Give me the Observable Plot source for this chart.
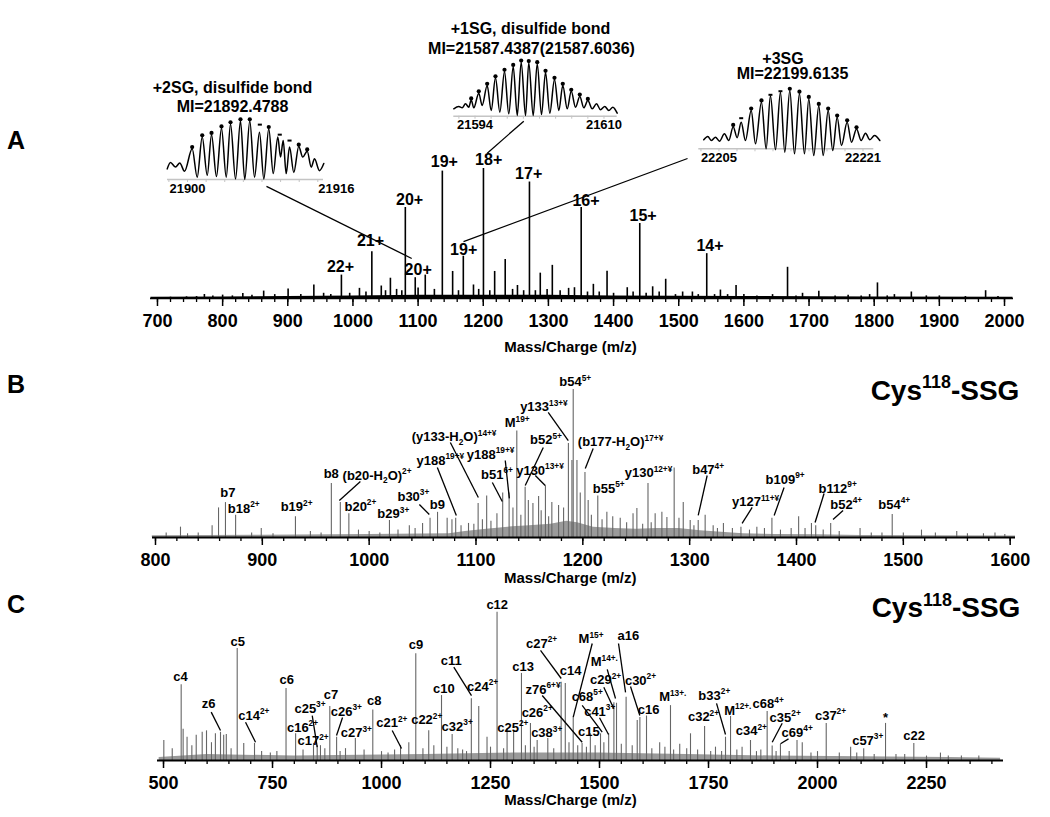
<!DOCTYPE html>
<html><head><meta charset="utf-8">
<script src="https://cdn.jsdelivr.net/npm/d3@7"></script>
<script src="https://cdn.jsdelivr.net/npm/@observablehq/plot@0.6"></script>
<style>
body{margin:0;background:#fff;font-family:"Liberation Sans",Arial,sans-serif}
#root{position:relative;width:1050px;height:817px;overflow:hidden;background:#fff}
.box{position:absolute}
.letter{position:absolute;left:7px;font-weight:bold;font-size:25px;line-height:28px;color:#000}
</style></head>
<body><div id="root"></div>
<script>
// ---------------- DATA ----------------
const xTitle = "Mass/Charge (m/z)";
const cysTitle = "Cys^{118}-SSG";

// Panel A: intact protein charge-state envelope [m/z, relative intensity]
const specA = [[720,1],[744.6,1.3],[760,1.5],[772,3.1],[785,2],[800,2.6],[815,2],[831,3.9],[845,2.5],[863,5.7],[880,3],[900.5,7.3],[920,3],[940,10.4],[955,4],[966,3.1],[982.3,18],[995,4],[1010,7.8],[1020,5],[1029,36],[1043.5,9.6],[1050,6],[1057.5,15.6],[1067,7],[1075,6],[1080.4,70],[1095.6,16],[1100,8],[1111,18],[1125,7],[1137.2,98],[1153,20.8],[1162,6],[1169.4,32.5],[1185,10.4],[1193,7],[1200.3,100],[1210,6],[1217.5,20.8],[1233.7,30],[1245,7],[1252.5,10],[1262,6],[1270.9,89.6],[1280,6],[1287.5,19.5],[1298,7],[1306,25.5],[1318,6],[1331,7.8],[1340,8.3],[1350.3,70],[1360,5],[1369,10.9],[1378,5],[1390,21],[1400,4],[1421,8.3],[1430,5],[1440.2,57.7],[1450,4],[1460,9],[1470,5],[1480,14.8],[1495,3],[1506,5],[1521,5],[1530,3],[1543,34.5],[1555,3],[1564,6.5],[1575,3],[1588,10],[1600,3],[1620,2],[1644,3],[1667,24],[1680,2],[1690,4],[1715,5.5],[1740,2],[1760,2.5],[1780,2],[1793,3],[1805,12],[1820,2],[1831,3],[1857,5],[1880,2],[1900,2],[1940,1.5],[1971,6],[1990,1.5]];
const floorA = [[690,1],[800,1.2],[900,1.5],[1000,2],[1100,2.5],[1200,2.5],[1300,2.5],[1400,2],[1500,1.8],[1600,1.5],[1800,1.2],[2013,1]];
const labelsA = [["22+",980.9,24.6],["21+",1026.9,44.2],["20+",1086.9,75.8],["19+",1140.2,105.4],["18+",1208.3,106.5],["17+",1269.7,96.2],["16+",1357.7,75.4],["15+",1445.3,63.7],["14+",1548,40.3],["19+",1169.9,37.7],["20+",1100.1,22.1]];
const connectorsA = [[867.3,86.2,1090.2,30.8],[1262.2,136.4,1206.1,111.8],[1513.5,107.7,1169.7,43.7]];
const ticksA = [700,800,900,1000,1100,1200,1300,1400,1500,1600,1700,1800,1900,2000];

// Insets (isotope clusters): profile [mass, rel. intensity], theoretical markers
const insetTitles2SG = ["+2SG, disulfide bond","MI=21892.4788"];
const insetTitles1SG = ["+1SG, disulfide bond","MI=21587.4387(21587.6036)"];
const insetTitles3SG = ["+3SG","MI=22199.6135"];
const profile2SG = [[21897.82,18],[21898.17,29],[21898.71,21],[21899.17,28],[21899.68,14],[21900.50,52],[21901.04,4],[21901.58,72],[21902.12,7],[21902.58,76],[21903.11,5],[21903.65,87],[21904.16,4],[21904.62,94],[21905.16,1],[21905.69,99],[21906.15,0],[21906.69,99],[21907.20,4],[21907.73,80],[21908.20,1],[21908.73,86],[21909.21,10],[21909.70,72],[21909.99,38],[21910.28,66],[21910.60,10],[21910.96,55],[21911.42,12],[21911.95,56],[21912.38,38],[21912.86,48],[21913.29,21],[21913.64,35],[21914.18,15],[21914.64,27]];
const dots2SG = [[21900.5,55],[21901.58,75],[21902.58,79],[21903.65,90],[21904.62,97],[21905.69,102],[21906.69,102],[21908.73,89],[21911.95,59],[21912.86,51]];
const dashes2SG = [[21907.77,93],[21909.91,76],[21910.96,66]];
const profile1SG = [[21591.37,13.7],[21591.99,18],[21592.41,15.5],[21592.82,23],[21593.23,16.7],[21593.53,30],[21593.85,15.5],[21594.47,42.6],[21594.89,20],[21595.51,57],[21596.01,10.5],[21596.54,71],[21597.08,7.4],[21597.66,83],[21598.19,4.4],[21598.74,92],[21599.24,1.3],[21599.73,100],[21600.27,1.3],[21600.67,99],[21601.22,1.3],[21601.72,97],[21602.25,3],[21602.75,81],[21603.28,5.6],[21603.86,68],[21604.40,10.5],[21604.89,57],[21605.44,13.7],[21605.94,46],[21606.47,16.7],[21607.00,36.5],[21607.50,15.5],[21608.00,29],[21608.54,13.7],[21609.07,23],[21609.57,12],[21610.10,18],[21610.60,10.5],[21611.10,16.7],[21611.64,5.6]];
const dots1SG = [[21593.53,33],[21594.47,46],[21595.51,60],[21596.54,74],[21597.66,86],[21598.74,95],[21599.73,103],[21600.67,102],[21601.72,100],[21602.75,84],[21603.86,71],[21604.89,60],[21605.94,49],[21607.00,40],[21608.00,32]];
const profile3SG = [[22203.31,15.4],[22203.76,21],[22204.17,14.2],[22204.61,20],[22205.06,13],[22205.61,25.7],[22206.09,14.2],[22206.58,38],[22207.02,19],[22207.47,45.6],[22207.94,14.2],[22208.58,65.7],[22209.06,8.6],[22209.72,80],[22210.24,0],[22210.72,91],[22211.28,-1.7],[22211.83,97],[22212.31,-5.8],[22212.87,100],[22213.39,-8.6],[22213.94,95],[22214.50,-8.6],[22214.98,86],[22215.53,-11.5],[22216.09,74],[22216.58,-11.5],[22217.13,65.7],[22217.64,-3],[22218.13,54],[22218.61,5.7],[22219.24,45.6],[22219.72,11.3],[22220.28,34],[22220.80,14.2],[22221.28,26.8],[22221.76,15.4],[22222.28,22.8],[22222.87,14.2]];
const dots3SG = [[22206.58,41],[22208.58,69],[22209.72,83],[22212.87,103],[22213.94,98],[22214.98,89],[22216.09,77],[22217.13,69],[22218.13,57],[22219.24,49],[22220.28,37]];
const dashes3SG = [[22207.47,52.5],[22210.72,92.6],[22211.83,98.8]];

// Panel B: fragment spectrum
const specB = [[810,3],[823.4,7],[830,2.5],[840,3],[853,8],[859,20],[865.5,23.6],[875,15],[890,3],[899,6],[910,2.5],[931,14],[945,4],[955,3],[964.6,36.5],[973,23.6],[981,16],[990,5],[1000,4],[1010,3],[1019,11.5],[1027,5],[1037.6,8],[1043,6],[1050,9.5],[1057,13],[1064,17],[1073,13],[1077.5,12],[1081,13],[1086,8],[1093,9.5],[1098,9],[1102,23],[1106,12],[1110,28],[1114,11],[1119.6,16],[1125,30],[1131,30],[1134.6,20],[1138.2,72],[1142,15],[1146,34],[1149,25],[1153.3,23],[1158.6,27.7],[1161,18],[1165,35],[1168,14],[1171,23.6],[1177.3,21.6],[1182,20],[1186.5,63.5],[1189.8,52],[1191,100],[1194.5,52],[1197.6,30],[1202,44],[1205,25],[1208,15],[1214,28],[1218,12],[1222.5,17],[1228,14],[1235,13],[1241,10],[1247,16],[1250.6,19.6],[1256,9],[1261,36.5],[1264,10],[1267.7,16],[1274,17],[1278.7,13.5],[1285.5,47],[1290,13],[1294,23.6],[1300.5,11.5],[1304,8],[1308,11.5],[1314.5,15],[1322,8],[1326,6],[1331.6,9.5],[1340,6],[1348,7],[1356,5],[1362.9,7],[1370,6],[1377,13],[1385,5],[1395,6],[1402,14],[1408,6],[1414,9.5],[1418,8],[1425,5],[1432,9.5],[1440,4],[1459.5,6],[1470,3],[1480,3],[1489.6,15.5],[1500,3],[1517,5],[1530,3],[1550,4],[1560,2.5],[1575,2.5],[1585.8,3],[1595,2]];
const floorB = [[797,1.2],[900,1.5],[1000,2],[1075,2.5],[1090,4],[1110,5.5],[1130,7],[1150,8],[1170,9],[1185,11],[1195,10],[1210,7],[1230,6],[1250,5.5],[1270,6],[1290,6],[1310,4.5],[1330,3.5],[1350,2.5],[1380,2],[1420,1.8],[1460,1.4],[1605,1]];
const labelsB = [["b7",867.8,29.9],["b18^{2+}",882.6,19.4],["b19^{2+}",932.1,20.5],["b8",964.5,43],["(b20-H_{2}O)^{2+}",1007.4,41.9],["b20^{2+}",991.8,20.9],["b29^{3+}",1022.6,16],["b30^{3+}",1041.4,27.7],["b9",1063.8,22.3],["y188^{19+¥}",1066.6,52],["(y133-H_{2}O)^{14+¥}",1079.5,67.8],["y188^{19+¥}",1113.7,56.1],["M^{19+}",1138.6,77.2],["b51^{6+}",1119.6,42.4],["b52^{5+}",1165.5,66],["y130^{13+¥}",1159.9,45.3],["y133^{13+¥}",1163.6,88],["b54^{5+}",1192.9,105],["(b177-H_{2}O)^{17+¥}",1235.3,64.4],["b55^{5+}",1224.2,33],["y130^{12+¥}",1261.5,43.5],["b47^{4+}",1317.3,45.7],["y127^{11+¥}",1361.7,23.9],["b109^{9+}",1389.3,39],["b112^{9+}",1438.5,33],["b52^{4+}",1446.6,22.1],["b54^{4+}",1491.5,22.1]];
const leadersB = [[991.8,37.8,972.1,25],[1047,22.3,1056.3,15.5],[1063.8,47.3,1081.6,14.9],[1076,64.2,1102.2,27],[1127.4,52,1131.2,26.4],[1115.3,37.2,1124.6,24.3],[1163,60.8,1146.1,35.1],[1155.5,41.9,1164.8,35.1],[1167.6,84.5,1186.4,65.5],[1209.7,60.1,1202.3,46.6],[1316.4,41.9,1308,14.9],[1358.5,20.3,1349.1,9.5],[1388.4,33.8,1379.1,14.9],[1425.8,29.7,1417.4,10.1],[1443.6,18.2,1434.2,12.2]];
const ticksB = [800,900,1000,1100,1200,1300,1400,1500,1600];
const cysB = [1539, 99.3];

// Panel C: fragment spectrum
const specC = [[500.7,13.5],[520,8],[540.5,51],[545,21],[554,15.7],[565,10],[575,17],[588.7,19],[598.6,20],[610,12],[619,18],[630.7,19],[638,17],[644,17.5],[655,8],[669,75.5],[684,11.5],[708.7,11.5],[725,6],[745,5],[760,6],[781,48.5],[803,18],[820,7],[844,11.5],[852.5,10],[860,10],[870,8],[881.4,36.4],[897,15.7],[905,6],[917.4,8],[940,14.8],[960,7],[980,34],[1000,6],[1015,5],[1030,7],[1043.6,10],[1062.6,12],[1078.6,72],[1095,8],[1108.3,20],[1120,10],[1137.6,43.8],[1150,9],[1162,17.5],[1175,8],[1186,7],[1195,6],[1206,41.6],[1223,36.4],[1242,15.7],[1250,9],[1265,100],[1280,8],[1288,21.5],[1303,20],[1321,58.7],[1330,10],[1341.6,25],[1350,9],[1357,13.5],[1381.4,14.8],[1395,8],[1412,52.8],[1421.5,52],[1430,12],[1439.7,29],[1450,10],[1460,11.5],[1470,9],[1479,18],[1490,10],[1502.3,18],[1510,12],[1521,18],[1533,39],[1539,38.6],[1550,11],[1561,42.7],[1575,10],[1586.5,27],[1592.6,29],[1607.8,30],[1620,8],[1638,12],[1650,9],[1662.8,37],[1670,7],[1684,11],[1700,8],[1708.7,18],[1725,7],[1741,23],[1755,6],[1766,9],[1780,6],[1789,15.7],[1800.5,29.7],[1815,7],[1827,9],[1846.3,13.5],[1860,6],[1870,7],[1884.5,33],[1896,9.7],[1905,6],[1915,10.8],[1935,6],[1953,13.5],[1965,12],[1985,5],[2000,6],[2020,25],[2050,5],[2076,9],[2090,5],[2106,8],[2130,4],[2156,25],[2180,4],[2200,4],[2220.9,11.5],[2250,3],[2282,5],[2300,3],[2330,3],[2370,3]];
const floorC = [[490,2],[600,4],[800,3],[1100,4],[1300,5],[1500,5],[1700,4],[1900,3],[2100,2.5],[2300,2],[2420,1.5]];
const labelsC = [["c4",539,56.2],["z6",603.2,38.2],["c5",670.2,80.2],["c14^{2+}",707.1,30.3],["c6",782.6,54.4],["c16^{2+}",818.8,22.3],["c17^{2+}",843,13.2],["c25^{3+}",836,35],["c7",884,44],["c26^{3+}",919.3,33],["c27^{3+}",942.2,18.4],["c8",983.3,40.5],["c21^{2+}",1023.6,25.2],["c9",1079.1,78.2],["c22^{2+}",1103.7,27.4],["c10",1142.9,48.3],["c32^{3+}",1173.5,22.9],["c11",1160.1,67],["c24^{2+}",1231.7,49.9],["c12",1265.4,105],["c25^{2+}",1301.2,22.3],["c13",1325,63.4],["z76^{6+¥}",1370.4,47.9],["c26^{2+}",1357.1,32.4],["c38^{3+}",1378.9,18.4],["c27^{2+}",1367,78.7],["c14",1433.5,60.2],["M^{15+}",1480.5,82],["c15",1475.5,19.1],["c68^{5+}",1471.8,43.2],["c41^{3+}",1500.5,33],["a16",1566,84.3],["M^{14+.}",1511,66.3],["c29^{2+}",1513.8,54.4],["c30^{2+}",1594,53.9],["c16",1612.5,34.5],["M^{13+.}",1668,42.8],["c32^{2+}",1738.5,29.2],["b33^{2+}",1763.3,43.8],["M^{12+.}",1817.2,33.7],["c68^{4+}",1886.9,38.2],["c34^{2+}",1848.2,19.8],["c35^{2+}",1925.9,29],["c69^{4+}",1953.4,18.9],["c37^{2+}",2029.8,30.3],["c57^{3+}",2115.2,13.5],["*",2156,28.8],["c22",2221.8,16.9]];
const leadersC = [[609.4,32.6,630.7,20.2],[688.1,25.8,711,12.3],[841.1,30.2,852.5,9],[910.6,29,896.8,16.9],[1024.5,20.2,1045.9,8.1],[1165.8,62.9,1206.4,43.8],[1368.6,43.8,1460.3,12.3],[1364.7,74.2,1412.2,55.3],[1483.3,78.9,1439.7,29.2],[1460.3,37.1,1506.2,19.1],[1500,28.8,1520.7,17.5],[1543.6,78.9,1559.7,45.9],[1517.7,61.4,1536.7,41.8],[1509.9,49.4,1532.8,34.9],[1571.1,49.9,1592.5,30.3],[1768.4,38.5,1789,17.5],[1919,25.1,1896.1,12.3],[1933.5,14.6,1915.2,11.3]];
const ticksC = [500,750,1000,1250,1500,1750,2000,2250];
const cysC = [2294.7, 102.5];

// ---------------- DRAWING ----------------
const FONT = "'Liberation Sans', Arial, Helvetica, sans-serif";
const baseStyle = {fontFamily: FONT, background: "transparent", overflow: "visible", color: "black"};
const root = document.getElementById("root");

function place(el, left, top, w, h) {
  const d = document.createElement("div");
  d.className = "box";
  d.style.left = left + "px"; d.style.top = top + "px";
  d.style.width = w + "px"; d.style.height = h + "px";
  d.appendChild(el);
  root.appendChild(d);
}

function spectrumPanel(o) {
  const marks = [
    Plot.areaY(o.floor, {x: d => d[0], y: d => d[1], fill: o.floorColor, curve: "linear"}),
    Plot.ruleX(o.peaks, {x: d => d[0], y1: 0, y2: d => d[1], stroke: o.color, strokeWidth: o.peakWidth}),
    Plot.ruleY([0], {stroke: "black", strokeWidth: o.axisWidth}),
    Plot.axisX(o.minor, {tickSize: 4, strokeWidth: 1.3, fill: "none", label: null}),
    Plot.axisX(o.major, {tickSize: 8, strokeWidth: 1.5, tickPadding: 8, fontSize: 18, fontWeight: "bold", tickFormat: d => String(d), label: null}),
    Plot.link(o.leaders, {x1: d => d[0], y1: d => d[1], x2: d => d[2], y2: d => d[3], stroke: "black", strokeWidth: 1.3}),
    Plot.text(o.labels, {x: d => d[1], y: d => d[2], text: d => d[0], fontSize: o.labelSize, fontWeight: "bold", fill: "black", lineAnchor: "middle"}),
    Plot.text([xTitle], {x: o.titleMz, frameAnchor: "bottom", dy: o.titleDy, text: d => d, fontSize: 15, fontWeight: "bold", lineAnchor: "middle"})
  ];
  if (o.cys) marks.push(Plot.text([cysTitle], {x: o.cys[0], y: o.cys[1], text: d => d, fontSize: 28, fontWeight: "bold", lineAnchor: "middle"}));
  return Plot.plot({
    width: 1050, height: o.height,
    marginLeft: o.ml, marginRight: o.mr, marginTop: o.mt, marginBottom: o.mb,
    x: {domain: o.domain}, y: {domain: [0, 100], axis: null},
    style: baseStyle, marks
  });
}

function insetPanel(o) {
  return Plot.plot({
    width: o.w, height: o.h,
    marginLeft: o.ml, marginRight: o.mr, marginTop: o.mt, marginBottom: o.mb,
    x: {domain: o.domain}, y: {domain: [0, 100], axis: null},
    style: baseStyle,
    marks: [
      Plot.ruleY([0], {stroke: "#c4c4c4", strokeWidth: 1.5}),
      Plot.axisX(o.minor, {tickSize: 3, stroke: "#c4c4c4", fill: "none", label: null}),
      Plot.axisX(o.ticks, {tickSize: 0, tickPadding: 4, fontSize: 13, fontWeight: "bold", tickFormat: d => String(d), label: null}),
      Plot.lineY(o.profile, {x: d => d[0], y: d => d[1], curve: "monotone-x", stroke: "black", strokeWidth: 1.5}),
      Plot.dot(o.dots, {x: d => d[0], y: d => d[1], r: 2.1, fill: "black", stroke: "none"}),
      Plot.link(o.dashes || [], {x1: d => d[0] - 0.22, x2: d => d[0] + 0.22, y1: d => d[1], y2: d => d[1], stroke: "black", strokeWidth: 2}),
      Plot.text([o.titles[0]], {frameAnchor: "top", dx: o.t1[0], dy: o.t1[1], text: d => d, fontSize: 16, fontWeight: "bold", lineAnchor: "middle"}),
      Plot.text([o.titles[1]], {frameAnchor: "top", dx: o.t2[0], dy: o.t2[1], text: d => d, fontSize: 16, fontWeight: "bold", lineAnchor: "middle"})
    ]
  });
}

// Panel A
place(spectrumPanel({
  height: 360, ml: 150, mr: 37, mt: 168, mb: 62, domain: [689.3, 2013.8],
  peaks: specA, floor: floorA, color: "black", floorColor: "black", peakWidth: 1.6, axisWidth: 1.6,
  major: ticksA, minor: d3.range(700, 2001, 20),
  labels: labelsA, labelSize: 16, leaders: connectorsA,
  titleMz: 1333.9, titleDy: 49
}), 0, 0, 1050, 360);

// Insets of panel A
place(insetPanel({
  w: 260, h: 130, ml: 47, mr: 57, mt: 50, mb: 21, domain: [21897.85, 21914.61],
  ticks: [21900, 21916], minor: d3.range(21898, 21915, 2),
  profile: profile2SG, dots: dots2SG, dashes: dashes2SG,
  titles: insetTitles2SG, t1: [-13, -33], t2: [-13, -14]
}), 120, 70, 260, 130);
place(insetPanel({
  w: 260, h: 130, ml: 53.3, mr: 43.3, mt: 51.7, mb: 24.3, domain: [21591.37, 21611.64],
  ticks: [21594, 21610], minor: d3.range(21592, 21612, 2),
  profile: profile1SG, dots: dots1SG, dashes: [],
  titles: insetTitles1SG, t1: [-5, -33.7], t2: [-4, -13.7]
}), 400, 10, 260, 130);
place(insetPanel({
  w: 260, h: 140, ml: 48.3, mr: 36.7, mt: 50, mb: 31.7, domain: [22202.76, 22222.2],
  ticks: [22205, 22221], minor: d3.range(22203, 22223, 2),
  profile: profile3SG, dots: dots3SG, dashes: dashes3SG,
  titles: insetTitles3SG, t1: [-3.3, -32], t2: [6.2, -17]
}), 650, 40, 260, 140);

// Panel B
place(spectrumPanel({
  height: 225, ml: 152, mr: 35, mt: 29, mb: 48, domain: [797.2, 1605],
  peaks: specB, floor: floorB, color: "#666666", floorColor: "#9a9a9a", peakWidth: 1.1, axisWidth: 2,
  major: ticksB, minor: d3.range(800, 1601, 20),
  labels: labelsB, labelSize: 13, leaders: leadersB,
  titleMz: 1188.2, titleDy: 41, cys: cysB
}), 0, 360, 1050, 225);

// Panel C
place(spectrumPanel({
  height: 232, ml: 157, mr: 47, mt: 26.7, mb: 57, domain: [486.2, 2426.6],
  peaks: specC, floor: floorC, color: "#666666", floorColor: "#9a9a9a", peakWidth: 1.1, axisWidth: 2,
  major: ticksC, minor: d3.range(500, 2401, 50),
  labels: labelsC, labelSize: 13, leaders: leadersC,
  titleMz: 1433.5, titleDy: 40, cys: cysC
}), 0, 585, 1050, 232);

// Panel letters
[["A", 140], ["B", 384], ["C", 604]].forEach(([t, y]) => {
  const d = document.createElement("div");
  d.className = "letter"; d.textContent = t; d.style.top = (y - 14) + "px";
  root.appendChild(d);
});

// Rich text: ^{...} superscript, _{...} subscript
const NS = "http://www.w3.org/2000/svg";
root.querySelectorAll("svg text").forEach(t => {
  if (t.querySelector("tspan")) return;
  const s = t.textContent;
  if (!/[\^_]\{/.test(s)) return;
  const fs = parseFloat(getComputedStyle(t).fontSize) || 13;
  const parts = s.split(/([\^_]\{[^}]*\})/).filter(p => p);
  t.textContent = "";
  let shift = 0;
  for (const p of parts) {
    const ts = document.createElementNS(NS, "tspan");
    let target = 0, txt = p, small = false;
    if (p.startsWith("^{")) { target = -0.42 * fs; txt = p.slice(2, -1); small = true; }
    else if (p.startsWith("_{")) { target = 0.28 * fs; txt = p.slice(2, -1); small = true; }
    ts.setAttribute("dy", (target - shift).toFixed(2));
    shift = target;
    if (small) ts.setAttribute("font-size", (0.64 * fs).toFixed(1));
    ts.textContent = txt;
    t.appendChild(ts);
  }
});
</script>
</body></html>
